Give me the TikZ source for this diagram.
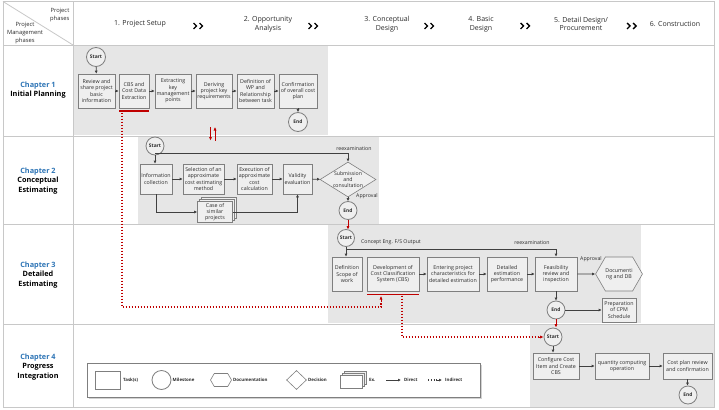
\documentclass[tikz,border=0pt]{standalone}
\usepackage{fontspec}
\setmainfont{Open Sans}
\usetikzlibrary{shapes.geometric,shapes.symbols,arrows.meta,shadows,calc}
\definecolor{gridc}{HTML}{C8C8C8}
\definecolor{regc}{HTML}{E6E6E6}
\definecolor{boxfill}{HTML}{EFEFEF}
\definecolor{boxline}{HTML}{7F7F7F}
\definecolor{arrc}{HTML}{404040}
\definecolor{txtc}{HTML}{2B2B2B}
\definecolor{redc}{HTML}{C00000}
\definecolor{bluec}{HTML}{2E75B6}
\begin{document}
\begin{tikzpicture}[x=1pt,y=-1pt,
  region/.style={fill=regc,draw=none},
  gridline/.style={draw=gridc,line width=0.8pt},
  box/.style={draw=boxline,fill=boxfill,line width=0.6pt,inner sep=0pt,align=center,
    font=\fontsize{5.3}{6.3}\selectfont,text=txtc},
  ms/.style={circle,draw=boxline,fill=boxfill,line width=0.8pt,inner sep=0pt,
    font=\bfseries\fontsize{4.9}{5.4}\selectfont,text=txtc},
  hexa/.style={signal,signal to=east and west,signal pointer angle=120,draw=boxline,
    fill=boxfill,line width=0.6pt,inner sep=0pt,align=center,font=\fontsize{5.3}{6.3}\selectfont,text=txtc},
  dia/.style={diamond,draw=boxline,fill=boxfill,line width=0.6pt,inner sep=0pt},
  stack/.style={box,double copy shadow={shadow xshift=2pt,shadow yshift=2pt,draw=boxline,fill=boxfill}},
  arr/.style={draw=arrc,line width=0.8pt,-{Latex[length=3pt,width=3pt]}},
  plain/.style={draw=arrc,line width=0.8pt},
  redarr/.style={draw=redc,line width=1pt,-{Latex[length=3.5pt,width=3.2pt]}},
  redline/.style={draw=redc,line width=1.2pt},
  reddot/.style={draw=redc,line width=1.6pt,dash pattern=on 1.6pt off 1.4pt},
  lbl/.style={font=\fontsize{5.2}{6.2}\selectfont,text=txtc,inner sep=0pt},
  phase/.style={font=\fontsize{7}{8.6}\selectfont,text=txtc,align=center,inner sep=0pt},
  corner/.style={font=\fontsize{5.8}{7.6}\selectfont,text=txtc,align=center,inner sep=0pt},
  chap/.style={font=\bfseries\fontsize{7.3}{9.6}\selectfont,align=center,inner sep=0pt},
  chev/.style={draw=black,line width=1.4pt},
  leg/.style={font=\bfseries\fontsize{4.4}{5}\selectfont,text=txtc,inner sep=0pt,anchor=west}]
\useasboundingbox (0,0) rectangle (719,409);
\fill[white] (0,0) rectangle (719,409);
% gray regions
\path[region] (74,46) rectangle (328,135);
\path[region] (138,137) rectangle (379,223.5);
\path[region] (328,225) rectangle (641,323);
\path[region] (530,325) rectangle (714,407);
% grid
\draw[gridline] (3,1.5) rectangle (714,407.5);
\draw[gridline] (73,1.5) -- (73,407.5);
\draw[gridline] (3,45) -- (714,45);
\draw[gridline] (3,136) -- (714,136);
\draw[gridline] (3,224) -- (714,224);
\draw[gridline] (3,324) -- (714,324);
\draw[gridline] (3,1.5) -- (73,45);
% header corner
\node[corner,anchor=east,align=right] (hp) at (69.5,15) {Project\\phases};
\node[corner] (hm) at (25,33) {Project\\Management\\phases};
% phases
\node[phase] (p1) at (140,24) {1. Project Setup};
\node[phase] (p2) at (268,24) {2. Opportunity\\Analysis};
\node[phase] (p3) at (387,24) {3. Conceptual\\Design};
\node[phase] (p4) at (481,24) {4. Basic\\Design};
\node[phase] (p5) at (581,24) {5. Detail Design/\\Procurement};
\node[phase] (p6) at (675,24) {6. Construction};
\foreach \cx in {199,314,430,526,632.5}{
  \draw[chev] (\cx-5.5,23) -- (\cx-2.5,26) -- (\cx-5.5,29);
  \draw[chev] (\cx+0.5,23) -- (\cx+3.5,26) -- (\cx+0.5,29);
}
% chapter labels
\node[chap] (c1) at (38,90) {\textcolor{bluec}{Chapter 1}\\Initial Planning};
\node[chap] (c2) at (38,181) {\textcolor{bluec}{Chapter 2}\\Conceptual\\Estimating};
\node[chap] (c3) at (38,275) {\textcolor{bluec}{Chapter 3}\\Detailed\\Estimating};
\node[chap] (c4) at (38,367) {\textcolor{bluec}{Chapter 4}\\Progress\\Integration};
% ---------- Chapter 1
\node[ms,minimum size=19pt] (s1) at (96,57) {Start};
\node[box,minimum width=37pt,minimum height=34pt] (b11) at (96.5,91) {Review and\\share project\\basic\\information};
\node[box,minimum width=30pt,minimum height=34pt] (b12) at (134,91) {CBS and\\Cost Data\\Extraction};
\node[box,minimum width=36pt,minimum height=34pt] (b13) at (173,91) {Extracting\\key\\management\\points};
\node[box,minimum width=36pt,minimum height=34pt] (b14) at (214,91) {Deriving\\project key\\requirements};
\node[box,minimum width=37pt,minimum height=34pt] (b15) at (255.5,91) {Definition of\\WP and\\Relationship\\between task};
\node[box,minimum width=38pt,minimum height=34pt] (b16) at (298,91) {Confirmation\\of overall cost\\plan};
\node[ms,minimum size=19pt] (e1) at (298,122) {End};
\draw[arr] (s1) -- (b11);
\draw[arr] (b11) -- (b12);
\draw[arr] (b12) -- (b13);
\draw[arr] (b13) -- (b14);
\draw[arr] (b14) -- (b15);
\draw[arr] (b15) -- (b16);
\draw[arr] (b16) -- (e1);
% red arrows between chapter 1 and 2
\coordinate (ra1) at (210.5,127);
\coordinate (ra2) at (210.5,140.5);
\coordinate (rb1) at (215,140.5);
\coordinate (rb2) at (215,127);
\draw[redarr] (ra1) -- (ra2);
\draw[redarr] (rb1) -- (rb2);
% ---------- Chapter 2
\node[ms,minimum size=18pt] (s2) at (155,146) {Start};
\node[box,minimum width=32pt,minimum height=30pt] (b21) at (156,179) {Information\\collection};
\node[box,minimum width=41pt,minimum height=30pt] (b22) at (203.5,179) {Selection of an\\approximate\\cost estimating\\method};
\node[box,minimum width=35pt,minimum height=30pt] (b23) at (254.5,179) {Execution of\\approximate\\cost\\calculation};
\node[box,minimum width=29pt,minimum height=30pt] (b24) at (297.5,179) {Validity\\evaluation};
\node[dia,minimum width=56pt,minimum height=35pt] (d2) at (348,179.5) {};
\node[lbl,align=center] (d2t) at (348,179.5) {Submission\\and\\consultation};
\node[ms,minimum size=18pt] (e2) at (348,210.5) {End};
\node[stack,minimum width=35pt,minimum height=21pt] (cs) at (215,212) {Case of\\similar\\projects};
\coordinate (r2) at (348,153);
\draw[arr] (s2.south) -- (s2.south |- b21.north);
\draw[arr] (s2.south |- r2) -- (r2) -- (d2.north);
\node[lbl] (rx2) at (354,149) {reexamination};
\draw[arr] (b21) -- (b22);
\draw[arr] (b22) -- (b23);
\draw[arr] (b23) -- (b24);
\draw[arr] (b24) -- (d2);
\draw[arr] (d2) -- (e2);
\node[lbl] (ap2) at (367,196.5) {Approval};
\draw[arr] (b21.south) |- (cs.west);
\draw[arr] (cs.east) -| (b24.south);
% red arrow chapter 2 -> 3
\draw[redarr] (e2.south) -- (e2.south |- 0,229.5);
% ---------- Chapter 3
\node[ms,minimum size=17pt] (s3) at (346,238) {Start};
\node[lbl,anchor=west] (ce) at (361,242.5) {Concept Eng. F/S Output};
\node[box,minimum width=30pt,minimum height=34pt] (b31) at (347,274) {Definition\\Scope of\\work};
\node[box,minimum width=52pt,minimum height=34pt] (b32) at (393,274) {Development of\\Cost Classification\\System (CBS)};
\node[box,minimum width=52pt,minimum height=34pt] (b33) at (453,274) {Entering project\\characteristics for\\detailed estimation};
\node[box,minimum width=40pt,minimum height=34pt] (b34) at (507,274) {Detailed\\estimation\\performance};
\node[box,minimum width=42pt,minimum height=34pt] (b35) at (556,274) {Feasibility\\review and\\inspection};
\node[hexa,minimum width=44pt,minimum height=34pt] (h3) at (619,274) {Documenti\\ng and DB};
\node[ms,minimum size=18pt] (e3) at (556,310) {End};
\node[box,minimum width=34pt,minimum height=24pt] (b36) at (619,310) {Preparation\\of CPM\\Schedule};
\coordinate (r3) at (556,249);
\draw[arr] (s3.south) -- (s3.south |- b31.north);
\draw[arr] (s3.south |- r3) -- (r3) -- (b35.north);
\node[lbl] (rx3) at (532,243) {reexamination};
\draw[arr] (b32) -- (b33);
\draw[arr] (b33) -- (b34);
\draw[arr] (b34) -- (b35);
\draw[arr] (b35) -- (h3);
\node[lbl] (ap3) at (591,259.5) {Approval};
\draw[arr] (b35) -- (e3);
\draw[arr] (e3) -- (b36);
% red links
\coordinate (u1a) at (119,111);
\coordinate (u1b) at (149,111);
\draw[redline] (u1a) -- (u1b);
\coordinate (u3a) at (367,294.5);
\coordinate (u3b) at (419,294.5);
\draw[redline] (u3a) -- (u3b);
\coordinate (d1a) at (122,112.5);
\coordinate (d1b) at (122,307);
\coordinate (d1c) at (381,307);
\coordinate (d1d) at (381,302);
\coordinate (d1e) at (381,296);
\draw[reddot] (d1a) -- (d1b) -- (d1c) -- (d1d);
\draw[redarr] (d1d) -- (d1e);
\coordinate (d2a) at (402,295.5);
\coordinate (d2b) at (402,337);
% ---------- Chapter 4
\node[ms,minimum size=18pt] (s4) at (553,337) {Start};
\node[box,minimum width=46pt,minimum height=26pt] (b41) at (556,366) {Configure Cost\\Item and Create\\CBS};
\node[box,minimum width=54pt,minimum height=26pt] (b42) at (622,366) {quantity computing\\operation};
\node[box,minimum width=49pt,minimum height=26pt] (b43) at (687.5,366) {Cost plan review\\and confirmation};
\node[ms,minimum size=18pt] (e4) at (688,395) {End};
\draw[arr] (s4.south) -- (s4.south |- b41.north);
\draw[arr] (b41) -- (b42);
\draw[arr] (b42) -- (b43);
\draw[arr] (b43.south) -- (b43.south |- e4.north);
\draw[redarr] (e3.south) -- (e3.south |- s4.north);
\coordinate (d2c) at ($(s4.west)+(-6,0)$);
\draw[reddot] (d2a) -- (d2b) -- (d2c);
\draw[redarr] (d2c) -- (s4.west);
% ---------- Legend
\node[draw=boxline,fill=white,line width=0.6pt,minimum width=393pt,minimum height=34pt,
  drop shadow={shadow xshift=1.5pt,shadow yshift=-1.5pt,opacity=0.35}] (lg) at (283.5,380) {};
\node[box,fill=white,minimum width=25pt,minimum height=18pt] (lg1) at (107.5,380) {};
\node[leg] (lt1) at (123,380) {Task(s)};
\node[ms,fill=white,minimum size=19pt] (lg2) at (161.5,380) {};
\node[leg] (lt2) at (172.5,380) {Milestone};
\node[hexa,fill=white,minimum width=21pt,minimum height=13pt] (lg3) at (221,380) {};
\node[leg] (lt3) at (233,380) {Documentation};
\node[dia,fill=white,minimum width=20pt,minimum height=19pt] (lg4) at (296.5,380) {};
\node[leg] (lt4) at (308,380) {Decision};
\node[stack,fill=white,minimum width=22pt,minimum height=13pt] (lg5) at (351,381.5) {};
\node[leg] (lt5) at (369,380) {Ex.};
\coordinate (la1) at (386,380);
\coordinate (la2) at (401,380);
\draw[arr] (la1) -- (la2);
\node[leg] (lt6) at (404,380) {Direct};
\coordinate (lb1) at (428,380);
\coordinate (lb2) at (437,380);
\coordinate (lb3) at (442,380);
\draw[draw=arrc,line width=1.1pt,dash pattern=on 1.2pt off 1.6pt] (lb1) -- (lb2);
\draw[arr] (lb2) -- (lb3);
\node[leg] (lt7) at (445,380) {Indirect};
\end{tikzpicture}
\end{document}
